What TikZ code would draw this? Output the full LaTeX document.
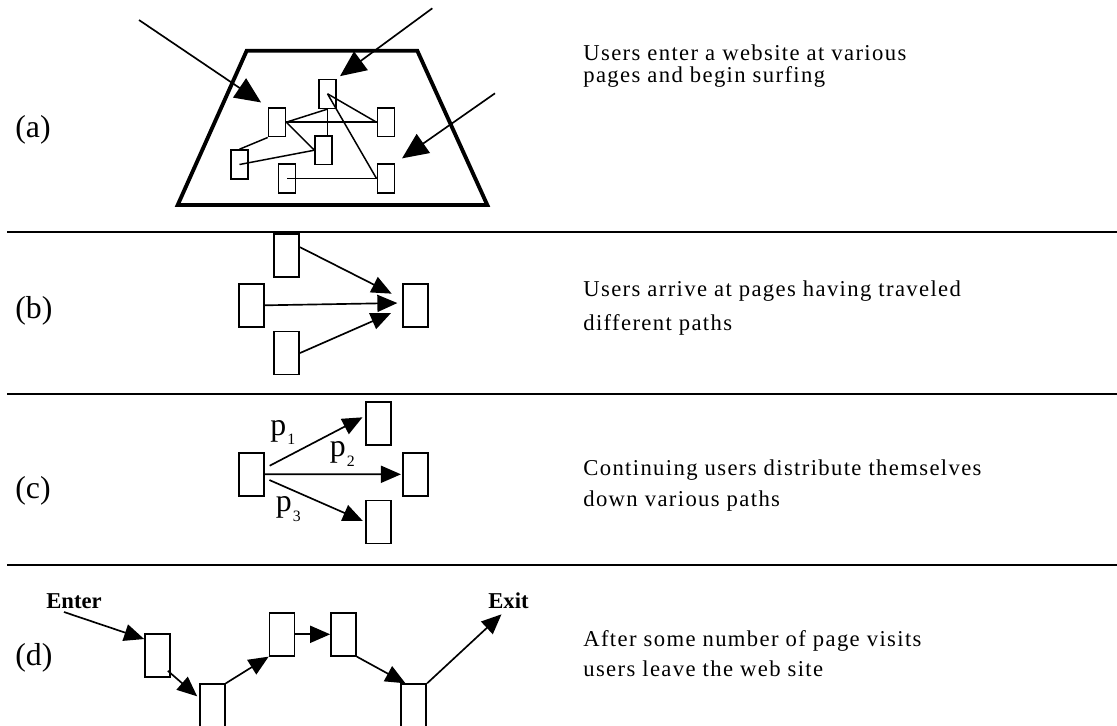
\documentclass[tikz,border=0pt]{standalone}
\usepackage{fontspec}
\setmainfont{Liberation Serif}
\newfontfamily\captfont[LetterSpace=6]{Liberation Serif}
\usetikzlibrary{arrows.meta,calc,positioning}
\tikzset{
  pgs/.style={draw, line width=0.9pt, inner sep=0pt, minimum width=0.34cm, minimum height=0.58cm},
  pg/.style={draw, line width=0.95pt, inner sep=0pt, minimum width=0.5cm, minimum height=0.86cm},
  link/.style={line width=0.85pt},
  arr/.style={line width=0.95pt, -{Triangle[length=0.4cm,width=0.34cm]}},
  bigarr/.style={line width=0.95pt, -{Triangle[length=0.52cm,width=0.46cm]}},
  sep/.style={line width=1.1pt},
  lab/.style={anchor=base west, inner sep=0pt, font=\fontsize{18.1pt}{20pt}\selectfont},
  capt/.style={anchor=base west, inner sep=0pt, align=left},
  pl/.style={anchor=base west, inner sep=0pt, font=\fontsize{18.1pt}{20pt}\selectfont},
  endlab/.style={anchor=base west, inner sep=0pt, font=\fontsize{12.9pt}{14pt}\selectfont\bfseries}
}
\newcommand{\psub}[1]{p\hspace{0.6pt}\raisebox{-5.5pt}{\fontsize{9pt}{9pt}\selectfont #1}}

\begin{document}
\begin{tikzpicture}[x=0.02cm,y=-0.02cm]
	\useasboundingbox (0,0) rectangle (1117,725);
	\foreach \yy in {232,394,565}
		\draw[sep] (7,\yy) -- (1117,\yy);

	% (a)
	\node[lab] (la) at (15,137) {(a)};
	\draw[line width=2.2pt] (246.7,50.7) -- (417.3,50.7) -- (487.3,205) -- (177.7,205) -- cycle;
	\node[pgs] (a1) at (327.5,93.8) {};
	\node[pgs] (a2) at (277,122.2) {};
	\node[pgs] (a3) at (385.8,122.2) {};
	\node[pgs] (a4) at (323.7,150.2) {};
	\node[pgs] (a5) at (239.5,164.5) {};
	\node[pgs] (a6) at (287,178.5) {};
	\node[pgs] (a7) at (385.8,178.5) {};
	\draw[link] (a2.east) -- (a3.west);
	\draw[link] (a2.east) -- (a1.south);
	\draw[link] (a1.south) -- (a1.south |- a4.north);
	\draw[link] (a1.center) -- (a3.west);
	\draw[link] (a1.center) -- (a7.west);
	\draw[link] (a2.east) -- (a4.west);
	\draw[link] (a2.south west) -- (a5.north);
	\draw[link] (a5.center) -- (a4.west);
	\draw[link] (a6.center) -- (a7.west);
	\coordinate (in1) at (139,20);
	\coordinate (in2) at (432.3,8.3);
	\coordinate (in3) at (495,93.3);
	\draw[bigarr, shorten >=0.16cm] (in1) -- (a2.north west);
	\draw[bigarr, shorten >=0.08cm] (in2) -- (a1.north east);
	\draw[bigarr, shorten >=0.17cm] (in3) -- (a7.north east);
	\node[capt, font={\captfont\fontsize{12.9pt}{12.9pt}\selectfont}] (ta) at (583,82.7)
		{Users enter a website at various\\pages and begin surfing};

	% (b)
	\node[lab] (lb) at (15,318.5) {(b)};
	\node[pg] (b1) at (286.7,255.2) {};
	\node[pg] (b2) at (251.5,305.3) {};
	\node[pg] (b3) at (286.7,353) {};
	\node[pg] (b4) at (415.7,305.3) {};
	\draw[arr, shorten >=0.24cm] (b1.31) -- (b4.155);
	\draw[arr, shorten >=0.1cm] (b2.east) -- (b4.170);
	\draw[arr, shorten >=0.25cm] (b3.east) -- (b4.192);
	\node[capt, font={\captfont\fontsize{12.9pt}{18.9pt}\selectfont}] (tb) at (583,330)
		{Users arrive at pages having traveled\\different paths};

	% (c)
	\node[lab] (lc) at (15,498) {(c)};
	\node[pg] (c1) at (251.5,474.2) {};
	\node[pg] (c2) at (378.5,423.3) {};
	\node[pg] (c3) at (415.8,474.3) {};
	\node[pg] (c4) at (378.5,522) {};
	\draw[arr, shorten <=0.11cm, shorten >=0.06cm] (c1.24) -- (c2.151);
	\draw[arr, shorten >=0.03cm] (c1.east) -- (c3.west);
	\draw[arr, shorten <=0.1cm, shorten >=0.05cm] (c1.344) -- (c4.west);
	\node[pl] (p1) at (270,435) {\psub{1}};
	\node[pl] (p2) at (329.5,456.7) {\psub{2}};
	\node[pl] (p3) at (275.5,511.7) {\psub{3}};
	\node[capt, font={\captfont\fontsize{12.9pt}{17.6pt}\selectfont}] (tc) at (583,506)
		{Continuing users distribute themselves\\down various paths};

	% (d)
	\node[lab] (ld) at (15,665) {(d)};
	\node[endlab] (enter) at (46,608) {Enter};
	\node[endlab] (exit) at (488,608.3) {Exit};
	\node[pg] (d1) at (157.5,655.5) {};
	\node[pg, minimum height=1cm, anchor=north] (d2) at (212.5,683.3) {};
	\node[pg] (d3) at (282,634.3) {};
	\node[pg] (d4) at (343.5,634.3) {};
	\node[pg, minimum height=1cm, anchor=north] (d5) at (413.8,683.3) {};
	\coordinate (ein) at ([xshift=0.36cm,yshift=-0.08cm]enter.base west);
	\coordinate (eout) at ([xshift=0.27cm,yshift=-0.12cm]exit.base west);
	\draw[arr] (ein) -- (d1.129);
	\draw[arr] ($(d1.south east)+(-3,-7)$) -- ($(d2.north west)+(-2,13)$);
	\draw[arr] (d2.north east) -- (d3.south west);
	\draw[arr] (d3.east) -- (d4.west);
	\draw[arr] (d4.south east) -- ([xshift=0.1cm]d5.north west);
	\draw[arr] (d5.north east) -- (eout);
	\node[capt, font={\captfont\fontsize{12.9pt}{17pt}\selectfont}] (td) at (583,676.7)
		{After some number of page visits\\users leave the web site};
\end{tikzpicture}
\end{document}
